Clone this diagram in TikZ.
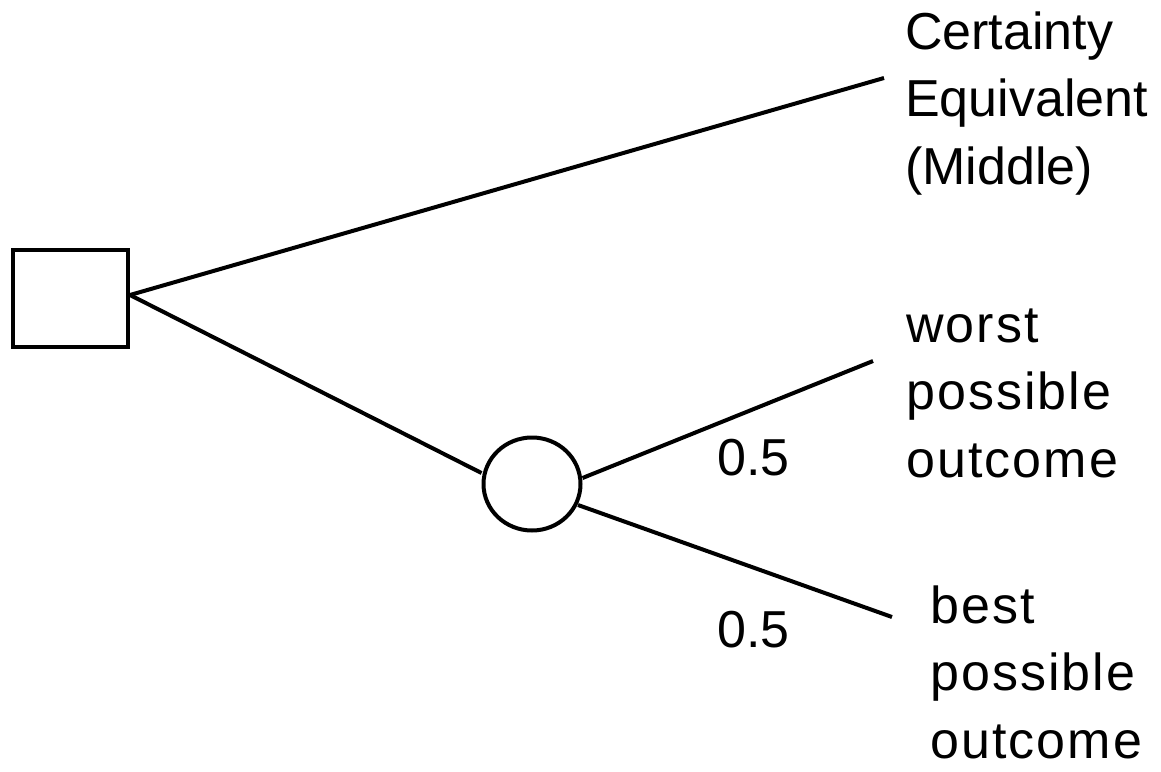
\documentclass[tikz,border=0pt]{standalone}
\usepackage{fontspec}
\setmainfont{Liberation Sans}
\newfontfamily\spacedfont[LetterSpace=4]{Liberation Sans}
\usetikzlibrary{shapes.geometric,calc}
\begin{document}
\begin{tikzpicture}[x=1pt,y=-1pt,
  line/.style={line width=4pt,black},
  lbl/.style={anchor=base west,inner sep=0pt,align=left,font=\fontsize{52}{67.5}\selectfont},
  olbl/.style={lbl,font=\spacedfont\fontsize{52}{67.5}\selectfont},
  prob/.style={anchor=base west,inner sep=0pt,font=\fontsize{52}{67}\selectfont}]
\useasboundingbox[fill=white] (0,0) rectangle (1161,771);
\node[draw,line width=4pt,minimum width=115pt,minimum height=97pt,inner sep=0pt] (sq) at (70.5,298.5) {};
\node[draw,line width=4pt,ellipse,minimum width=97pt,minimum height=93pt,inner sep=0pt] (ch) at (532,484) {};
\coordinate (d) at (130,295);
\coordinate (ce) at (884,78);
\coordinate (wo) at (873,361);
\coordinate (be) at (892,617);
\draw[line] (d) -- (ce);
\draw[line] (d) -- (ch.west|-0,473);
\draw[line] (ch.east|-0,478) -- (wo);
\draw[line] ($(ch.center)+(46,21)$) -- (be);
\node[lbl] (tce) at (905,184) {Certainty\\Equivalent\\(Middle)};
\node[olbl] (tw) at (906,477) {worst\\possible\\outcome};
\node[olbl] (tb) at (930,758) {best\\possible\\outcome};
\node[prob] (p1) at (717,475) {0.5};
\node[prob] (p2) at (717,647) {0.5};
\end{tikzpicture}
\end{document}
